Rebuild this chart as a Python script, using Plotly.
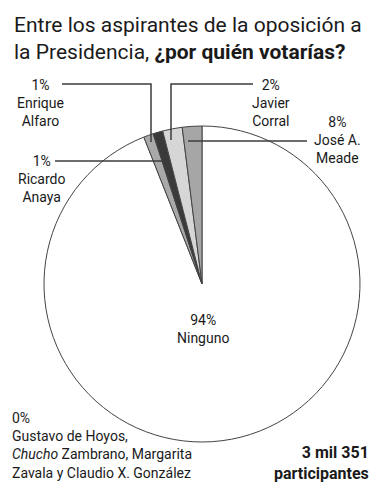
import plotly.graph_objects as go

W, H = 384, 500

# Data
candidates = ["Ninguno", "Enrique Alfaro", "Ricardo Anaya", "Javier Corral", "José A. Meade"]
slice_values = [94, 1, 1, 2, 2]          # slice sizes as drawn in the picture
label_pcts = ["94%", "1%", "1%", "2%", "8%"]  # percentages printed on the chart
label_names = ["Ninguno", "Enrique<br>Alfaro", "Ricardo<br>Anaya", "Javier<br>Corral", "José A.<br>Meade"]
colors = ["#ffffff", "#a9a9a9", "#3a3a3a", "#d6d6d6", "#a6a6a6"]

title_regular = "Entre los aspirantes de la oposición a<br>la Presidencia, "
title_bold = "¿por quién votarías?"
footnote_pct = "0%"
footnote_names = "Gustavo de Hoyos,<br><i>Chucho</i> Zambrano, Margarita<br>Zavala y Claudio X. González"
participants = "3 mil 351<br>participantes"


def px(x):
    return x / W


def py(y):
    return 1 - y / H


cx, cy, r = 202, 284, 158

fig = go.Figure(go.Pie(
    labels=candidates,
    values=slice_values,
    sort=False,
    direction="clockwise",
    rotation=0,
    textinfo="none",
    hoverinfo="label",
    marker=dict(colors=colors, line=dict(color="#444444", width=1)),
    domain=dict(x=[px(cx - r), px(cx + r)], y=[py(cy + r), py(cy - r)]),
    showlegend=False,
))

font = "Roboto, Arial, sans-serif"
tc = "#1a1a1a"
anns = []

anns.append(dict(x=px(12), y=py(39), xanchor="left", yanchor="middle",
                 text=title_regular + "<b>" + title_bold + "</b>", align="left",
                 font=dict(size=21, family=font, color=tc), showarrow=False))


def block(x, y, text, xanchor="center", align="center", size=14):
    anns.append(dict(x=px(x), y=py(y), xanchor=xanchor, yanchor="middle", text=text,
                     align=align, font=dict(size=size, family=font, color=tc), showarrow=False))


# pie labels
block(40, 103, label_pcts[1] + "<br>" + label_names[1])
block(41, 179, label_pcts[2] + "<br>" + label_names[2])
block(271, 103, label_pcts[3] + "<br>" + label_names[3])
block(337, 140, label_pcts[4] + "<br>" + label_names[4])
block(203, 329, label_pcts[0] + "<br>" + label_names[0])

block(10, 445, footnote_pct + "<br>" + footnote_names, xanchor="left", align="left")
anns.append(dict(x=px(371), y=py(463), xanchor="right", yanchor="middle", text="<b>" + participants + "</b>",
                 align="right", font=dict(size=16, family=font, color=tc), showarrow=False))

lc = dict(color="#3c3c3c", width=1.5)
shapes = []


def seg(points):
    path = "M " + " L ".join(f"{px(x)},{py(y)}" for x, y in points)
    shapes.append(dict(type="path", xref="paper", yref="paper", path=path, line=lc))


seg([(62, 84), (151, 84), (151, 142)])      # Alfaro
seg([(253, 84), (171, 84), (171, 140)])     # Corral
seg([(307, 141), (188, 141)])               # Meade
seg([(55, 161), (167, 161)])                # Anaya

fig.update_layout(
    width=W, height=H,
    margin=dict(l=0, r=0, t=0, b=0),
    paper_bgcolor="white", plot_bgcolor="white",
    annotations=anns, shapes=shapes,
)

fig.write_html("out.html")
